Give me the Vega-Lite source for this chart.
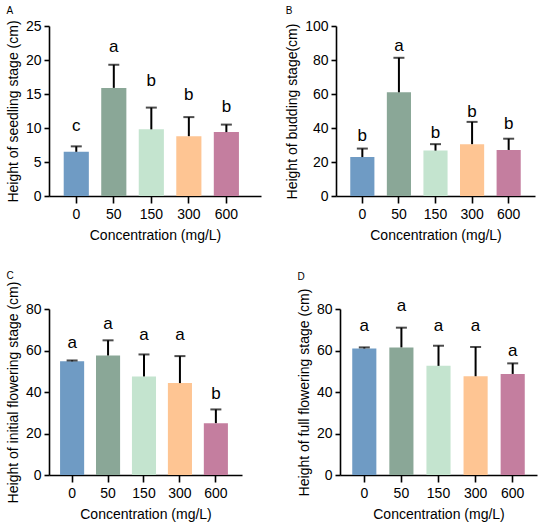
{
  "$schema": "https://vega.github.io/schema/vega-lite/v6.json",
  "background": "white",
  "padding": {"left": 6, "top": 6, "right": 3, "bottom": 3},
  "config": {
    "font": "Liberation Sans",
    "view": {"stroke": null},
    "axis": {
      "labelFont": "Liberation Sans", "labelFontSize": 14, "labelColor": "black",
      "titleFont": "Liberation Sans", "titleFontSize": 14, "titleFontWeight": "normal", "titleColor": "black",
      "domainColor": "black", "domainWidth": 1.6, "tickColor": "black", "tickWidth": 1.6,
      "grid": false, "labelOverlap": false
    },
    "axisX": {"labelAngle": 0, "labelPadding": 4, "titlePadding": 7, "tickSize": 7},
    "axisY": {"labelPadding": 3, "titlePadding": 5, "tickSize": 5},
    "title": {"font": "Liberation Sans", "fontSize": 10, "fontWeight": "normal", "anchor": "start", "color": "black"}
  },
  "spacing": 29,
  "vconcat": [
    {
      "spacing": 24,
      "hconcat": [
        {
          "title": {"text": "A", "offset": 3},
          "width": 212, "height": 170,
          "data": {"values": [
            {"conc": "0", "value": 6.5, "upper": 7.3, "letter": "c", "ly": 10.25},
            {"conc": "50", "value": 15.9, "upper": 19.3, "letter": "a", "ly": 21.9},
            {"conc": "150", "value": 9.8, "upper": 13.0, "letter": "b", "ly": 16.9},
            {"conc": "300", "value": 8.8, "upper": 11.6, "letter": "b", "ly": 14.9},
            {"conc": "600", "value": 9.4, "upper": 10.5, "letter": "b", "ly": 13.1}
          ]},
          "encoding": {
            "x": {"field": "conc", "type": "nominal", "sort": ["0", "50", "150", "300", "600"],
              "scale": {"paddingInner": 0.33, "paddingOuter": 0.49, "align": 0.4}, "title": "Concentration (mg/L)"}
          },
          "layer": [
            {"mark": {"type": "bar"},
             "encoding": {
               "y": {"field": "value", "type": "quantitative", "scale": {"domain": [0, 25], "nice": false},
                 "axis": {"values": [0, 5, 10, 15, 20, 25]}, "title": "Height of seedling stage (cm)"},
               "color": {"field": "conc", "type": "nominal", "sort": ["0", "50", "150", "300", "600"], "legend": null,
                 "scale": {"domain": ["0", "50", "150", "300", "600"], "range": ["#6F9BC4", "#8AA797", "#C4E4CF", "#FEC593", "#C47E9F"]}}
             }},
            {"mark": {"type": "rule", "color": "black", "strokeWidth": 2},
             "encoding": {"y": {"field": "value", "type": "quantitative", "axis": {"values": [0, 5, 10, 15, 20, 25]}, "title": "Height of seedling stage (cm)"}, "y2": {"field": "upper"}}},
            {"mark": {"type": "tick", "color": "black", "orient": "horizontal", "size": 11, "thickness": 2},
             "encoding": {"y": {"field": "upper", "type": "quantitative", "axis": {"values": [0, 5, 10, 15, 20, 25]}, "title": "Height of seedling stage (cm)"}}},
            {"mark": {"type": "text", "fontSize": 17, "baseline": "middle", "color": "black"},
             "encoding": {"y": {"field": "ly", "type": "quantitative", "axis": {"values": [0, 5, 10, 15, 20, 25]}, "title": "Height of seedling stage (cm)"}, "text": {"field": "letter"}}}
          ]
        },
        {
          "title": {"text": "B", "offset": 3},
          "width": 199, "height": 170,
          "data": {"values": [
            {"conc": "0", "value": 22.9, "upper": 27.9, "letter": "b", "ly": 35.1},
            {"conc": "50", "value": 61.0, "upper": 81.3, "letter": "a", "ly": 88.4},
            {"conc": "150", "value": 26.7, "upper": 30.5, "letter": "b", "ly": 37.1},
            {"conc": "300", "value": 30.5, "upper": 43.6, "letter": "b", "ly": 49.6},
            {"conc": "600", "value": 27.1, "upper": 33.7, "letter": "b", "ly": 42.2}
          ]},
          "encoding": {
            "x": {"field": "conc", "type": "nominal", "sort": ["0", "50", "150", "300", "600"],
              "scale": {"paddingInner": 0.34, "paddingOuter": 0.39}, "title": "Concentration (mg/L)"}
          },
          "layer": [
            {"mark": {"type": "bar"},
             "encoding": {
               "y": {"field": "value", "type": "quantitative", "scale": {"domain": [0, 100], "nice": false},
                 "axis": {"values": [0, 20, 40, 60, 80, 100]}, "title": "Height of  budding stage(cm)"},
               "color": {"field": "conc", "type": "nominal", "sort": ["0", "50", "150", "300", "600"], "legend": null,
                 "scale": {"domain": ["0", "50", "150", "300", "600"], "range": ["#6F9BC4", "#8AA797", "#C4E4CF", "#FEC593", "#C47E9F"]}}
             }},
            {"mark": {"type": "rule", "color": "black", "strokeWidth": 2},
             "encoding": {"y": {"field": "value", "type": "quantitative", "axis": {"values": [0, 20, 40, 60, 80, 100]}, "title": "Height of  budding stage(cm)"}, "y2": {"field": "upper"}}},
            {"mark": {"type": "tick", "color": "black", "orient": "horizontal", "size": 11, "thickness": 2},
             "encoding": {"y": {"field": "upper", "type": "quantitative", "axis": {"values": [0, 20, 40, 60, 80, 100]}, "title": "Height of  budding stage(cm)"}}},
            {"mark": {"type": "text", "fontSize": 17, "baseline": "middle", "color": "black"},
             "encoding": {"y": {"field": "ly", "type": "quantitative", "axis": {"values": [0, 20, 40, 60, 80, 100]}, "title": "Height of  budding stage(cm)"}, "text": {"field": "letter"}}}
          ]
        }
      ]
    },
    {
      "spacing": 55,
      "hconcat": [
        {
          "title": {"text": "C", "offset": 0},
          "width": 193, "height": 166,
          "data": {"values": [
            {"conc": "0", "value": 54.8, "upper": 55.2, "letter": "a", "ly": 63.4},
            {"conc": "50", "value": 57.6, "upper": 64.9, "letter": "a", "ly": 73.0},
            {"conc": "150", "value": 47.5, "upper": 58.1, "letter": "a", "ly": 67.3},
            {"conc": "300", "value": 44.3, "upper": 57.3, "letter": "a", "ly": 67.3},
            {"conc": "600", "value": 25.0, "upper": 31.6, "letter": "b", "ly": 39.1}
          ]},
          "encoding": {
            "x": {"field": "conc", "type": "nominal", "sort": ["0", "50", "150", "300", "600"],
              "scale": {"paddingInner": 0.33, "paddingOuter": 0.35, "align": 0.44}, "title": "Concentration (mg/L)"}
          },
          "layer": [
            {"mark": {"type": "bar"},
             "encoding": {
               "y": {"field": "value", "type": "quantitative", "scale": {"domain": [0, 80], "nice": false},
                 "axis": {"values": [0, 20, 40, 60, 80]}, "title": "Height of initial flowering stage (cm)"},
               "color": {"field": "conc", "type": "nominal", "sort": ["0", "50", "150", "300", "600"], "legend": null,
                 "scale": {"domain": ["0", "50", "150", "300", "600"], "range": ["#6F9BC4", "#8AA797", "#C4E4CF", "#FEC593", "#C47E9F"]}}
             }},
            {"mark": {"type": "rule", "color": "black", "strokeWidth": 2},
             "encoding": {"y": {"field": "value", "type": "quantitative", "axis": {"values": [0, 20, 40, 60, 80]}, "title": "Height of initial flowering stage (cm)"}, "y2": {"field": "upper"}}},
            {"mark": {"type": "tick", "color": "black", "orient": "horizontal", "size": 11, "thickness": 2},
             "encoding": {"y": {"field": "upper", "type": "quantitative", "axis": {"values": [0, 20, 40, 60, 80]}, "title": "Height of initial flowering stage (cm)"}}},
            {"mark": {"type": "text", "fontSize": 17, "baseline": "middle", "color": "black"},
             "encoding": {"y": {"field": "ly", "type": "quantitative", "axis": {"values": [0, 20, 40, 60, 80]}, "title": "Height of initial flowering stage (cm)"}, "text": {"field": "letter"}}}
          ]
        },
        {
          "title": {"text": "D", "offset": 6},
          "width": 197, "height": 166,
          "data": {"values": [
            {"conc": "0", "value": 61.0, "upper": 61.5, "letter": "a", "ly": 71.9},
            {"conc": "50", "value": 61.5, "upper": 71.0, "letter": "a", "ly": 81.4},
            {"conc": "150", "value": 52.6, "upper": 62.3, "letter": "a", "ly": 71.9},
            {"conc": "300", "value": 47.6, "upper": 61.7, "letter": "a", "ly": 71.9},
            {"conc": "600", "value": 48.7, "upper": 53.8, "letter": "a", "ly": 59.8}
          ]},
          "encoding": {
            "x": {"field": "conc", "type": "nominal", "sort": ["0", "50", "150", "300", "600"],
              "scale": {"paddingInner": 0.35, "paddingOuter": 0.33}, "title": "Concentration (mg/L)"}
          },
          "layer": [
            {"mark": {"type": "bar"},
             "encoding": {
               "y": {"field": "value", "type": "quantitative", "scale": {"domain": [0, 80], "nice": false},
                 "axis": {"values": [0, 20, 40, 60, 80]}, "title": "Height of full flowering stage (cm)"},
               "color": {"field": "conc", "type": "nominal", "sort": ["0", "50", "150", "300", "600"], "legend": null,
                 "scale": {"domain": ["0", "50", "150", "300", "600"], "range": ["#6F9BC4", "#8AA797", "#C4E4CF", "#FEC593", "#C47E9F"]}}
             }},
            {"mark": {"type": "rule", "color": "black", "strokeWidth": 2},
             "encoding": {"y": {"field": "value", "type": "quantitative", "axis": {"values": [0, 20, 40, 60, 80]}, "title": "Height of full flowering stage (cm)"}, "y2": {"field": "upper"}}},
            {"mark": {"type": "tick", "color": "black", "orient": "horizontal", "size": 11, "thickness": 2},
             "encoding": {"y": {"field": "upper", "type": "quantitative", "axis": {"values": [0, 20, 40, 60, 80]}, "title": "Height of full flowering stage (cm)"}}},
            {"mark": {"type": "text", "fontSize": 17, "baseline": "middle", "color": "black"},
             "encoding": {"y": {"field": "ly", "type": "quantitative", "axis": {"values": [0, 20, 40, 60, 80]}, "title": "Height of full flowering stage (cm)"}, "text": {"field": "letter"}}}
          ]
        }
      ]
    }
  ]
}
